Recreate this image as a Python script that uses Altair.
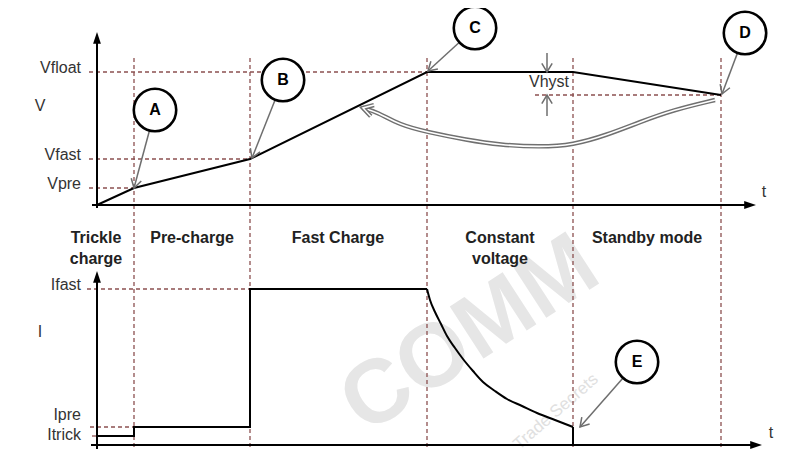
import math
import altair as alt
import pandas as pd

# ---------------- data (time units on x; voltage / current units on y) ----------------
phase_bounds = [3.7, 15.3, 33.0, 47.6, 62.4]
phase_labels = [["Trickle", "charge"], ["Pre-charge"], ["Fast Charge"], ["Constant", "voltage"], ["Standby mode"]]
phase_label_t = [-0.1, 9.5, 24.1, 40.3, 55.0]

v_names = ["Vfloat", "Vfast", "Vpre"]
v_levels = [13.3, 4.6, 1.7]
v_ends = [33.0, 15.3, 3.7]
v_label_levels = [13.7, 5.0, 2.1]
v_hyst_level = 11.0
v_hyst_start = 43.8
v_hyst_x = 45.0

volt_t = [0.0, 3.7, 15.3, 33.0, 47.6, 62.4]
volt_v = [0.0, 1.7, 4.6, 13.3, 13.3, 11.0]

i_names = ["Ifast", "Ipre", "Itrick"]
i_levels = [15.6, 1.8, 0.9]
i_ends = [15.3, 3.7, 0.0]
i_label_levels = [16.0, 3.0, 1.0]

# current: step part (trickle, pre-charge, fast charge)
step_t = [0.0, 3.7, 3.7, 15.3, 15.3, 33.0]
step_i = [0.9, 0.9, 1.8, 1.8, 15.6, 15.6]
# current: constant-voltage decay, then drop to zero
decay_t = [33.0, 33.3, 33.8, 34.4, 35.0, 35.8, 36.6, 37.6, 38.6, 39.8, 41.0, 42.5, 44.0, 45.8, 47.6]
decay_i = [15.6, 14.5, 13.3, 12.1, 10.9, 9.7, 8.6, 7.4, 6.3, 5.4, 4.6, 3.9, 3.2, 2.5, 1.8]
drop_t = [47.6, 47.6]
drop_i = [1.8, 0.0]

ret_t = [61.8, 57.6, 54.3, 51.0, 47.6, 44.3, 40.3, 37.0, 33.0, 30.3, 28.0, 26.6]
ret_v = [10.5, 9.5, 8.3, 7.0, 6.0, 5.8, 6.0, 6.5, 7.3, 8.0, 9.3, 9.7]

marker_names = ["A", "B", "C", "D"]
marker_t = [5.8, 18.6, 37.8, 64.8]
marker_v = [9.5, 12.5, 17.7, 17.2]
marker_tip_t = [3.7, 15.5, 33.1, 62.5]
marker_tip_v = [1.7, 4.7, 13.4, 11.1]

e_name = "E"
e_t, e_i = 54.0, 8.3
e_tip_t, e_tip_i = 48.3, 1.8

# ---------------- styling ----------------
DASH = "#8c5050"
GRAY = "#6e6e6e"
TXT = "#333333"
FONT = "Liberation Sans"
R = 2.15  # circle radius in chart units
CHEVRON = "M-1,-0.6L0,0L-1,0.6"
HEAD = "M0,0L-1,-0.33L-1,0.33Z"
XSCALE = alt.Scale(domain=[-8.9, 69.1], nice=False, zero=False)

X = alt.X("t:Q", scale=XSCALE, axis=None)
X2tip = alt.X("t2:Q", scale=XSCALE, axis=None)


def YV(f="v"):
    return alt.Y(f"{f}:Q", scale=alt.Scale(domain=[-25.2, 19.7], nice=False, zero=False), axis=None)


def YI(f="i"):
    return alt.Y(f"{f}:Q", scale=alt.Scale(domain=[-1.2, 43.7], nice=False, zero=False), axis=None)


def ang(dt, dy):
    return math.degrees(math.atan2(-dy, dt)) % 360


layers = []

# watermark
layers.append(alt.Chart(pd.DataFrame({"w": ["COMM"]})).mark_text(
    font=FONT, fontWeight="bold", fontSize=90, color="#e6e6e6", angle=327,
    align="center", baseline="middle").encode(
    x=alt.value(462), y=alt.value(327), text="w:N"))
layers.append(alt.Chart(pd.DataFrame({"w": ["Trade Secrets"]})).mark_text(
    font=FONT, fontSize=17, color="#e0e0e0", angle=319,
    align="right", baseline="middle").encode(
    x=alt.value(588), y=alt.value(369), text="w:N"))

# phase boundary dashed lines
pb = pd.DataFrame({"t": phase_bounds, "v": [14.7] * 5, "v2": [-24.5] * 5})
layers.append(alt.Chart(pb).mark_rule(color=DASH, strokeDash=[4, 3], strokeWidth=1.3).encode(
    x=X, y=YV(), y2="v2:Q"))

# level dashed lines (voltage)
vl = pd.DataFrame({"v": v_levels + [v_hyst_level], "t": [-0.8] * 3 + [v_hyst_start],
                   "t2": v_ends + [volt_t[-1]]})
layers.append(alt.Chart(vl).mark_rule(color=DASH, strokeDash=[4, 3], strokeWidth=1.3).encode(
    x=X, x2="t2:Q", y=YV()))
# level dashed lines (current)
il = pd.DataFrame({"i": i_levels, "t": [-1.0, -0.7, -0.5], "t2": i_ends})
layers.append(alt.Chart(il).mark_rule(color=DASH, strokeDash=[4, 3], strokeWidth=1.3).encode(
    x=X, x2="t2:Q", y=YI()))

# axes (voltage panel)
layers.append(alt.Chart(pd.DataFrame({"t": [0.0], "v": [-0.3], "v2": [16.4]})).mark_rule(
    color="black", strokeWidth=2).encode(x=X, y=YV(), y2="v2:Q"))
layers.append(alt.Chart(pd.DataFrame({"t": [-0.5], "t2": [65.0], "v": [0.0]})).mark_rule(
    color="black", strokeWidth=2).encode(x=X, x2="t2:Q", y=YV()))
layers.append(alt.Chart(pd.DataFrame({"t": [0.0, 65.9], "v": [17.3, 0.0], "a": [270, 0]})).mark_point(
    shape=HEAD, filled=True, color="black", size=560, opacity=1).encode(
    x=X, y=YV(), angle=alt.Angle("a:Q", scale=None)))
# axes (current panel)
layers.append(alt.Chart(pd.DataFrame({"t": [0.0], "i": [-0.4], "i2": [16.6]})).mark_rule(
    color="black", strokeWidth=2).encode(x=X, y=YI(), y2="i2:Q"))
layers.append(alt.Chart(pd.DataFrame({"t": [-0.6], "t2": [65.7], "i": [0.0]})).mark_rule(
    color="black", strokeWidth=2).encode(x=X, x2="t2:Q", y=YI()))
layers.append(alt.Chart(pd.DataFrame({"t": [0.0, 66.5], "i": [17.4, 0.0], "a": [270, 0]})).mark_point(
    shape=HEAD, filled=True, color="black", size=560, opacity=1).encode(
    x=X, y=YI(), angle=alt.Angle("a:Q", scale=None)))

# voltage profile
vp = pd.DataFrame({"t": volt_t, "v": volt_v, "k": list(range(len(volt_t)))})
layers.append(alt.Chart(vp).mark_line(color="black", strokeWidth=2).encode(
    x=X, y=YV(), order="k:Q"))

# current profile
sp = pd.DataFrame({"t": step_t, "i": step_i, "k": list(range(len(step_t)))})
layers.append(alt.Chart(sp).mark_line(color="black", strokeWidth=2, strokeJoin="miter").encode(
    x=X, y=YI(), order="k:Q"))
dp = pd.DataFrame({"t": decay_t, "i": decay_i, "k": list(range(len(decay_t)))})
layers.append(alt.Chart(dp).mark_line(color="black", strokeWidth=2, interpolate="monotone").encode(
    x=X, y=YI(), order="k:Q"))
drp = pd.DataFrame({"t": drop_t, "i": drop_i, "k": [0, 1]})
layers.append(alt.Chart(drp).mark_line(color="black", strokeWidth=2).encode(
    x=X, y=YI(), order="k:Q"))

# return path (double line arrow)
rp = pd.DataFrame({"t": ret_t, "v": ret_v, "k": list(range(len(ret_t)))})
layers.append(alt.Chart(rp).mark_line(color="#707070", strokeWidth=4.5, interpolate="basis").encode(
    x=X, y=YV(), order="k:Q"))
layers.append(alt.Chart(rp).mark_line(color="white", strokeWidth=1.6, interpolate="basis").encode(
    x=X, y=YV(), order="k:Q"))
ra = ang(ret_t[-1] - ret_t[-2], ret_v[-1] - ret_v[-2])
rh = pd.DataFrame({"t": [ret_t[-1]], "v": [ret_v[-1]], "a": [ra]})
layers.append(alt.Chart(rh).mark_point(shape=CHEVRON, filled=False, color="#707070", strokeWidth=4.5,
                                       size=380, opacity=1, strokeJoin="miter").encode(
    x=X, y=YV(), angle=alt.Angle("a:Q", scale=None)))
layers.append(alt.Chart(rh).mark_point(shape=CHEVRON, filled=False, color="white", strokeWidth=1.5,
                                       size=380, opacity=1, strokeJoin="miter").encode(
    x=X, y=YV(), angle=alt.Angle("a:Q", scale=None)))

# Vhyst arrows
vh = pd.DataFrame({"t": [v_hyst_x, v_hyst_x], "v": [15.2, 8.9], "v2": [13.4, 10.9]})
layers.append(alt.Chart(vh).mark_rule(color=GRAY, strokeWidth=1.5).encode(x=X, y=YV(), y2="v2:Q"))
vhh = pd.DataFrame({"t": [v_hyst_x, v_hyst_x], "v": [13.3, v_hyst_level], "a": [90, 270]})
layers.append(alt.Chart(vhh).mark_point(shape=CHEVRON, filled=False, color=GRAY, strokeWidth=1.5,
                                        size=300, opacity=1).encode(
    x=X, y=YV(), angle=alt.Angle("a:Q", scale=None)))

# pointers from markers (voltage panel)
rows = []
for n, t0, v0, t1, v1 in zip(marker_names, marker_t, marker_v, marker_tip_t, marker_tip_v):
    dt, dv = t1 - t0, v1 - v0
    d = math.hypot(dt, dv)
    rows.append({"n": n, "t": t0 + dt * R / d, "v": v0 + dv * R / d, "t2": t1, "v2": v1,
                 "a": ang(dt, dv)})
pv = pd.DataFrame(rows)
layers.append(alt.Chart(pv).mark_rule(color=GRAY, strokeWidth=1.5).encode(
    x=X, y=YV(), x2="t2:Q", y2="v2:Q"))
layers.append(alt.Chart(pv).mark_point(shape=CHEVRON, filled=False, color=GRAY, strokeWidth=1.5,
                                       size=300, opacity=1).encode(
    x=X2tip, y=YV("v2"), angle=alt.Angle("a:Q", scale=None)))
# pointer E (current panel)
dt, di = e_tip_t - e_t, e_tip_i - e_i
d = math.hypot(dt, di)
pe = pd.DataFrame({"t": [e_t + dt * R / d], "i": [e_i + di * R / d], "t2": [e_tip_t], "i2": [e_tip_i],
                   "a": [ang(dt, di)]})
layers.append(alt.Chart(pe).mark_rule(color=GRAY, strokeWidth=1.5).encode(
    x=X, y=YI(), x2="t2:Q", y2="i2:Q"))
layers.append(alt.Chart(pe).mark_point(shape=CHEVRON, filled=False, color=GRAY, strokeWidth=1.5,
                                       size=300, opacity=1).encode(
    x=X2tip, y=YI("i2"), angle=alt.Angle("a:Q", scale=None)))

# marker circles and letters
mv = pd.DataFrame({"n": marker_names, "t": marker_t, "v": marker_v})
layers.append(alt.Chart(mv).mark_point(shape="circle", fill="white", stroke="black", strokeWidth=2.6,
                                       size=1800, opacity=1, fillOpacity=1).encode(x=X, y=YV()))
layers.append(alt.Chart(mv).mark_text(font=FONT, fontWeight="bold", fontSize=16, color="black",
                                      baseline="middle").encode(x=X, y=YV(), text="n:N"))
me = pd.DataFrame({"n": [e_name], "t": [e_t], "i": [e_i]})
layers.append(alt.Chart(me).mark_point(shape="circle", fill="white", stroke="black", strokeWidth=2.6,
                                       size=1800, opacity=1, fillOpacity=1).encode(x=X, y=YI()))
layers.append(alt.Chart(me).mark_text(font=FONT, fontWeight="bold", fontSize=16, color="black",
                                      baseline="middle").encode(x=X, y=YI(), text="n:N"))

# level labels
lv = pd.DataFrame({"n": v_names, "t": [-1.6] * 3, "v": v_label_levels})
layers.append(alt.Chart(lv).mark_text(font=FONT, fontSize=16, color=TXT, align="right",
                                      baseline="middle").encode(x=X, y=YV(), text="n:N"))
li = pd.DataFrame({"n": i_names, "t": [-1.6] * 3, "i": i_label_levels})
layers.append(alt.Chart(li).mark_text(font=FONT, fontSize=16, color=TXT, align="right",
                                      baseline="middle").encode(x=X, y=YI(), text="n:N"))
# axis names
an_v = pd.DataFrame({"n": ["V", "t"], "t": [-5.7, 66.7], "v": [9.9, 1.3]})
layers.append(alt.Chart(an_v).mark_text(font=FONT, fontSize=16, color=TXT,
                                        baseline="middle").encode(x=X, y=YV(), text="n:N"))
an_i = pd.DataFrame({"n": ["I", "t"], "t": [-5.7, 67.4], "i": [11.3, 1.2]})
layers.append(alt.Chart(an_i).mark_text(font=FONT, fontSize=16, color=TXT,
                                        baseline="middle").encode(x=X, y=YI(), text="n:N"))
# Vhyst label
layers.append(alt.Chart(pd.DataFrame({"n": ["Vhyst"], "t": [v_hyst_x + 0.2], "v": [12.3]})).mark_text(
    font=FONT, fontSize=16, color=TXT, baseline="middle").encode(x=X, y=YV(), text="n:N"))

# phase labels
pl = pd.DataFrame({"n": phase_labels, "t": phase_label_t, "i": [20.7] * 5})
layers.append(alt.Chart(pl).mark_text(font=FONT, fontSize=16, fontWeight="bold", color="#222222",
                                      baseline="middle", lineHeight=21).encode(x=X, y=YI(), text="n"))

chart = alt.layer(*layers).resolve_scale(y="independent").properties(
    width=780, height=449, autosize=alt.AutoSizeParams(type="none"), padding=0,
    background="white").configure_view(stroke=None)

chart.save("out.html", embed_options={"renderer": "svg", "actions": False})
